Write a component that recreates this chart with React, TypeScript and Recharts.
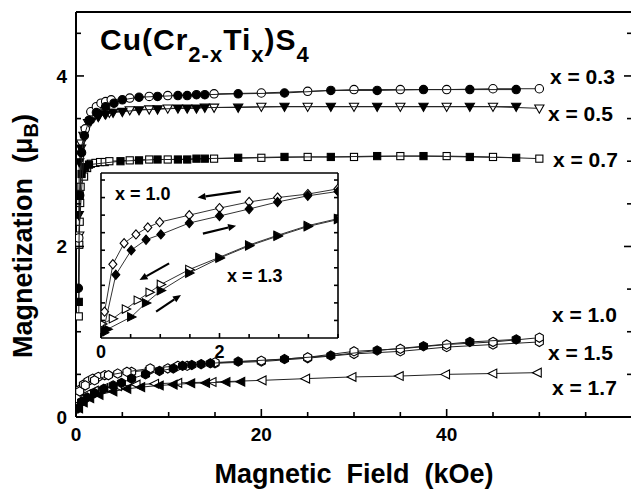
import React from "react";
import { ComposedChart, Scatter, XAxis, YAxis, ReferenceLine } from "recharts";

// ---- main panel: field (kOe) and moment (muB) per composition ----
// filled = field going up, open = field going down
const h03Up = [0.25, 0.4, 0.6, 0.9, 1.4, 2.2, 3.2, 4.1, 5.0, 6.8, 8.8, 11, 12, 13, 13.9, 17.5, 22.5, 27.5, 32.5, 37.5, 42.5, 47.5];
const m03Up = [1.51, 2.6, 3.1, 3.3, 3.48, 3.57, 3.64, 3.68, 3.72, 3.75, 3.76, 3.77, 3.77, 3.78, 3.78, 3.79, 3.8, 3.83, 3.83, 3.84, 3.84, 3.84];
const h03Down = [0.3, 1.0, 1.6, 2.2, 2.7, 3.2, 3.8, 5.8, 7.9, 9.9, 14.9, 20, 25, 30, 35, 40, 45, 50];
const m03Down = [2.1, 3.38, 3.58, 3.64, 3.68, 3.7, 3.72, 3.74, 3.76, 3.77, 3.79, 3.8, 3.82, 3.84, 3.84, 3.84, 3.85, 3.85];

const h05Up = [0.3, 0.35, 0.55, 1.0, 1.6, 2.4, 3.2, 4.0, 5.0, 6.8, 8.8, 11, 12, 13, 13.9, 17.5, 22.5, 27.5, 32.5, 37.5, 42.5, 47.5];
const m05Up = [2.37, 2.99, 3.15, 3.36, 3.47, 3.52, 3.55, 3.57, 3.58, 3.6, 3.61, 3.62, 3.62, 3.62, 3.63, 3.63, 3.64, 3.64, 3.64, 3.64, 3.64, 3.64];
const h05Down = [0.35, 0.55, 0.8, 1.3, 1.9, 2.5, 3.1, 3.6, 5.8, 7.9, 9.9, 14.9, 20, 25, 30, 35, 40, 45, 50];
const m05Down = [2.13, 3.21, 3.3, 3.45, 3.51, 3.54, 3.56, 3.57, 3.6, 3.61, 3.62, 3.63, 3.64, 3.64, 3.64, 3.64, 3.64, 3.64, 3.62];

const h07Up = [0.3, 0.4, 0.6, 1.0, 1.4, 4.8, 6.8, 8.8, 11, 12, 13, 13.9, 17.5, 22.5, 27.5, 32.5, 37.5, 42.5, 47.5];
const m07Up = [1.35, 2.6, 2.85, 2.93, 2.96, 3.0, 3.01, 3.02, 3.02, 3.02, 3.03, 3.03, 3.04, 3.05, 3.05, 3.06, 3.06, 3.05, 3.04];
const h07Down = [0.3, 0.35, 0.4, 0.45, 0.5, 0.87, 1.2, 1.6, 2.1, 2.6, 3.1, 3.6, 5.8, 7.9, 9.9, 14.9, 20, 25, 30, 35, 40, 45, 50];
const m07Down = [1.18, 2.02, 2.29, 2.51, 2.7, 2.82, 2.92, 2.97, 2.98, 2.99, 2.99, 3.0, 3.01, 3.02, 3.02, 3.03, 3.04, 3.05, 3.05, 3.06, 3.06, 3.05, 3.03];

const h10Up = [0.2, 0.6, 1.2, 2, 3, 4, 4.9, 6, 7.5, 9, 10.5, 11.5, 12.5, 13.5, 14.5, 17.5, 22.5, 27.5, 32.5, 37.5, 42.5, 47.5];
const m10Up = [0.1, 0.18, 0.23, 0.28, 0.33, 0.37, 0.4, 0.45, 0.5, 0.54, 0.57, 0.6, 0.61, 0.62, 0.63, 0.65, 0.68, 0.72, 0.78, 0.83, 0.88, 0.91];
const h10Down = [0.4, 1.0, 2.0, 3.5, 5.5, 8, 11, 15, 20, 25, 30, 35, 40, 45, 50];
const m10Down = [0.3, 0.37, 0.43, 0.49, 0.53, 0.57, 0.6, 0.64, 0.66, 0.7, 0.77, 0.8, 0.85, 0.88, 0.93];

const h15 = [0.1, 0.4, 0.8, 1.3, 1.8, 2.4, 3.1, 4.5, 6, 7.9, 9.9, 12, 15, 20, 25, 30, 35, 40, 45, 50];
const m15 = [0.22, 0.32, 0.38, 0.42, 0.45, 0.47, 0.49, 0.51, 0.53, 0.55, 0.57, 0.6, 0.63, 0.65, 0.69, 0.74, 0.77, 0.82, 0.85, 0.88];

const h17Up = [0.3, 0.8, 1.5, 2.5, 4, 5.5, 7, 9, 10.5, 12.4, 14, 16.2, 17.8];
const m17Up = [0.1, 0.17, 0.22, 0.26, 0.3, 0.33, 0.35, 0.37, 0.38, 0.395, 0.4, 0.41, 0.414];
const h17Down = [0.2, 0.6, 1.2, 2, 3, 4.5, 6.5, 8.5, 11, 14.7, 20.1, 24.8, 29.8, 34.9, 39.9, 45, 49.8];
const m17Down = [0.15, 0.22, 0.27, 0.31, 0.34, 0.36, 0.38, 0.39, 0.4, 0.41, 0.43, 0.45, 0.47, 0.48, 0.5, 0.51, 0.52];

// ---- inset: low field (kOe) ----
const hIn10Down = [0.06, 0.2, 0.39, 0.59, 0.79, 0.99, 1.49, 2.0, 2.5, 2.98, 3.49, 4.0];
const mIn10Down = [0.15, 0.42, 0.54, 0.59, 0.63, 0.66, 0.7, 0.74, 0.775, 0.8, 0.82, 0.85];
const hIn10Up = [0.04, 0.25, 0.51, 0.76, 1.01, 1.49, 2.0, 2.5, 2.98, 3.49, 4.0];
const mIn10Up = [0.04, 0.36, 0.5, 0.56, 0.59, 0.655, 0.695, 0.735, 0.775, 0.81, 0.835];
const hIn13Down = [0.02, 0.2, 0.42, 0.62, 0.82, 1.01, 1.49, 2.0, 2.5, 2.98, 3.49, 4.0];
const mIn13Down = [0.08, 0.11, 0.165, 0.215, 0.26, 0.305, 0.39, 0.46, 0.53, 0.585, 0.64, 0.68];
const hIn13Up = [0.05, 0.11, 0.51, 0.76, 1.01, 1.49, 2.0, 2.5, 2.98, 3.49, 4.0];
const mIn13Up = [0.03, 0.05, 0.12, 0.2, 0.27, 0.37, 0.455, 0.525, 0.58, 0.635, 0.675];

// arrows in the inset: [from H, from M, to H, to M]
const insetArrows = [
  [2.36, 0.835, 1.63, 0.8],
  [1.72, 0.595, 2.28, 0.64],
  [1.15, 0.425, 0.65, 0.33],
  [0.93, 0.15, 1.35, 0.245],
];

// ticks
const fieldTicks = [0, 5, 10, 15, 20, 25, 30, 35, 40, 45, 50, 55, 60];
const fieldLabels = [0, 20, 40];
const momentTicks = [0, 0.5, 1, 1.5, 2, 2.5, 3, 3.5, 4, 4.5];
const momentLabels = [0, 2, 4];
const insetFieldTicks = [0, 0.5, 1, 1.5, 2, 2.5, 3, 3.5, 4];
const insetFieldLabels = [0, 2];
const insetMomentTicks = [0.1, 0.2, 0.3, 0.4, 0.5, 0.6, 0.7, 0.8, 0.9];

const FONT = "'Liberation Sans', Arial, sans-serif";

const pts = (h: number[], m: number[]) => h.map((v, i) => ({ h: v, m: m[i] }));

type Kind = "circle" | "square" | "triDown" | "triLeft" | "triRight" | "hex" | "diamond";

function Marker({ cx, cy, kind, filled, size }: any) {
  if (cx == null || cy == null || isNaN(cx) || isNaN(cy)) return null;
  const s = size;
  const st = { fill: filled ? "#000" : "#fff", stroke: "#000", strokeWidth: 1.1 };
  const poly = (p: number[][]) => <polygon points={p.map((q) => q.join(",")).join(" ")} {...st} />;
  switch (kind as Kind) {
    case "circle":
      return <circle cx={cx} cy={cy} r={s} {...st} />;
    case "square":
      return <rect x={cx - s * 0.85} y={cy - s * 0.85} width={s * 1.7} height={s * 1.7} {...st} />;
    case "triDown":
      return poly([[cx - s * 1.1, cy - s * 0.8], [cx + s * 1.1, cy - s * 0.8], [cx, cy + s * 1.15]]);
    case "triLeft":
      return poly([[cx - s * 1.2, cy], [cx + s * 0.9, cy - s * 1.05], [cx + s * 0.9, cy + s * 1.05]]);
    case "triRight":
      return poly([[cx + s * 1.2, cy], [cx - s * 0.9, cy - s * 1.05], [cx - s * 0.9, cy + s * 1.05]]);
    case "diamond":
      return poly([[cx, cy - s * 1.15], [cx + s, cy], [cx, cy + s * 1.15], [cx - s, cy]]);
    default: {
      const r = s * 1.1;
      const p = [0, 1, 2, 3, 4, 5].map((k) => {
        const a = (Math.PI / 3) * k - Math.PI / 2;
        return [cx + r * Math.cos(a), cy + r * Math.sin(a)];
      });
      return poly(p);
    }
  }
}

const mainSeries = [
  { id: "07d", data: pts(h07Down, m07Down), kind: "square", filled: false },
  { id: "07u", data: pts(h07Up, m07Up), kind: "square", filled: true },
  { id: "05d", data: pts(h05Down, m05Down), kind: "triDown", filled: false },
  { id: "05u", data: pts(h05Up, m05Up), kind: "triDown", filled: true },
  { id: "03d", data: pts(h03Down, m03Down), kind: "circle", filled: false },
  { id: "03u", data: pts(h03Up, m03Up), kind: "circle", filled: true },
  { id: "17d", data: pts(h17Down, m17Down), kind: "triLeft", filled: false },
  { id: "17u", data: pts(h17Up, m17Up), kind: "triLeft", filled: true },
  { id: "15", data: pts(h15, m15), kind: "hex", filled: false },
  { id: "10d", data: pts(h10Down, m10Down), kind: "hex", filled: false },
  { id: "10u", data: pts(h10Up, m10Up), kind: "hex", filled: true },
];

const insetSeries = [
  { id: "i13d", data: pts(hIn13Down, mIn13Down), kind: "triRight", filled: false },
  { id: "i13u", data: pts(hIn13Up, mIn13Up), kind: "triRight", filled: true },
  { id: "i10d", data: pts(hIn10Down, mIn10Down), kind: "diamond", filled: false },
  { id: "i10u", data: pts(hIn10Up, mIn10Up), kind: "diamond", filled: true },
];

type Side = "bottom" | "top" | "left" | "right";
function tickRenderer(side: Side, labels: number[], o: { major: number; minor: number; font: number; gap: number; show: boolean }) {
  return (p: any) => {
    const v = Number(p.payload?.value);
    const isMajor = labels.some((l) => Math.abs(l - v) < 1e-6);
    const len = isMajor ? o.major : o.minor;
    const { x, y } = p;
    let line = null;
    if (side === "bottom") line = <line x1={x} y1={y} x2={x} y2={y - len} />;
    if (side === "top") line = <line x1={x} y1={y} x2={x} y2={y + len} />;
    if (side === "left") line = <line x1={x} y1={y} x2={x + len} y2={y} />;
    if (side === "right") line = <line x1={x} y1={y} x2={x - len} y2={y} />;
    let label = null;
    if (o.show && isMajor) {
      if (side === "bottom")
        label = (
          <text x={x} y={y + o.gap} textAnchor="middle" fontSize={o.font} fontWeight="bold" fill="#000" stroke="none" fontFamily={FONT}>
            {v}
          </text>
        );
      if (side === "left")
        label = (
          <text x={x - o.gap} y={y + o.font * 0.36} textAnchor="end" fontSize={o.font} fontWeight="bold" fill="#000" stroke="none" fontFamily={FONT}>
            {v}
          </text>
        );
    }
    return (
      <g stroke="#000" strokeWidth={1.6}>
        {line}
        {label}
      </g>
    );
  };
}

function Arrow(props: any) {
  const { x1, y1, x2, y2 } = props;
  if ([x1, y1, x2, y2].some((v) => v == null || isNaN(v))) return null;
  const a = Math.atan2(y2 - y1, x2 - x1);
  const L = 8;
  const W = 3.5;
  const bx = x2 - L * Math.cos(a);
  const by = y2 - L * Math.sin(a);
  const px = -Math.sin(a) * W;
  const py = Math.cos(a) * W;
  return (
    <g>
      <line x1={x1} y1={y1} x2={bx} y2={by} stroke="#000" strokeWidth={2.2} />
      <polygon points={`${x2},${y2} ${bx + px},${by + py} ${bx - px},${by - py}`} fill="#000" />
    </g>
  );
}

const labelStyle = { fontFamily: FONT, fontWeight: "bold" as const, fill: "#000" };

export default function App() {
  return (
    <div style={{ position: "fixed", left: 0, top: 0, width: 631, height: 492, overflow: "hidden", background: "#fff" }}>
      {/* main panel */}
      <div style={{ position: "absolute", left: 0, top: 0 }}>
        <ComposedChart width={640} height={492} margin={{ top: 11, right: 7, bottom: 0, left: 0 }}>
          <XAxis xAxisId="b" type="number" dataKey="h" domain={[0, 60]} ticks={fieldTicks} interval={0} allowDataOverflow
            height={75} tickSize={0} tickMargin={0} tickLine={false} axisLine={{ stroke: "#000", strokeWidth: 2 }}
            tick={tickRenderer("bottom", fieldLabels, { major: 8, minor: 5, font: 19, gap: 24, show: true })} />
          <XAxis xAxisId="t" orientation="top" type="number" domain={[0, 60]} ticks={fieldTicks} interval={0} allowDataOverflow
            height={1} tickSize={0} tickMargin={0} tickLine={false} axisLine={{ stroke: "#000", strokeWidth: 2 }}
            tick={tickRenderer("top", fieldLabels, { major: 8, minor: 5, font: 19, gap: 0, show: false })} />
          <YAxis yAxisId="l" type="number" dataKey="m" domain={[0, 4.75]} ticks={momentTicks} interval={0} allowDataOverflow
            width={76} tickSize={0} tickMargin={0} tickLine={false} axisLine={{ stroke: "#000", strokeWidth: 2 }}
            tick={tickRenderer("left", momentLabels, { major: 8, minor: 5, font: 19, gap: 9, show: true })} />
          <YAxis yAxisId="r" orientation="right" type="number" domain={[0, 4.75]} ticks={momentTicks} interval={0} allowDataOverflow
            width={1} tickSize={0} tickMargin={0} tickLine={false} axisLine={{ stroke: "#000", strokeWidth: 2 }}
            tick={tickRenderer("right", momentLabels, { major: 8, minor: 5, font: 19, gap: 0, show: false })} />
          {mainSeries.map((s) => (
            <Scatter key={s.id} xAxisId="b" yAxisId="l" data={s.data} isAnimationActive={false}
              line={{ stroke: "#222", strokeWidth: 1 }} lineType="joint"
              shape={(p: any) => <Marker cx={p.cx} cy={p.cy} kind={s.kind} filled={s.filled} size={4.2} />} />
          ))}
        </ComposedChart>
      </div>

      {/* inset background */}
      <div style={{ position: "absolute", left: 101, top: 173, width: 237, height: 165, background: "#fff" }} />

      {/* inset */}
      <div style={{ position: "absolute", left: 80, top: 160 }}>
        <ComposedChart width={280} height={210} margin={{ top: 12, right: 21, bottom: 31, left: 20 }}>
          <XAxis xAxisId="b" type="number" dataKey="h" domain={[0, 4]} ticks={insetFieldTicks} interval={0} allowDataOverflow
            height={1} tickSize={0} tickMargin={0} tickLine={false} axisLine={{ stroke: "#000", strokeWidth: 1.6 }}
            tick={tickRenderer("bottom", insetFieldLabels, { major: 5, minor: 4, font: 18, gap: 20, show: true })} />
          <XAxis xAxisId="t" orientation="top" type="number" domain={[0, 4]} ticks={insetFieldTicks} interval={0} allowDataOverflow
            height={1} tickSize={0} tickMargin={0} tickLine={false} axisLine={{ stroke: "#000", strokeWidth: 1.6 }}
            tick={tickRenderer("top", insetFieldLabels, { major: 5, minor: 4, font: 18, gap: 0, show: false })} />
          <YAxis yAxisId="l" type="number" dataKey="m" domain={[0, 0.94]} ticks={insetMomentTicks} interval={0} allowDataOverflow
            width={1} tickSize={0} tickMargin={0} tickLine={false} axisLine={{ stroke: "#000", strokeWidth: 1.6 }}
            tick={tickRenderer("left", [], { major: 4, minor: 4, font: 18, gap: 0, show: false })} />
          <YAxis yAxisId="r" orientation="right" type="number" domain={[0, 0.94]} ticks={insetMomentTicks} interval={0} allowDataOverflow
            width={1} tickSize={0} tickMargin={0} tickLine={false} axisLine={{ stroke: "#000", strokeWidth: 1.6 }}
            tick={tickRenderer("right", [], { major: 4, minor: 4, font: 18, gap: 0, show: false })} />
          {insetSeries.map((s) => (
            <Scatter key={s.id} xAxisId="b" yAxisId="l" data={s.data} isAnimationActive={false}
              line={{ stroke: "#333", strokeWidth: 1 }} lineType="joint"
              shape={(p: any) => <Marker cx={p.cx} cy={p.cy} kind={s.kind} filled={s.filled} size={4} />} />
          ))}
          {insetArrows.map((a, i) => (
            <ReferenceLine key={i} xAxisId="b" yAxisId="l" ifOverflow="visible"
              segment={[{ x: a[0], y: a[1] }, { x: a[2], y: a[3] }]} shape={(p: any) => <Arrow {...p} />} />
          ))}
        </ComposedChart>
      </div>

      {/* texts */}
      <svg width={631} height={492} style={{ position: "absolute", left: 0, top: 0, pointerEvents: "none" }}>
        <text x={100} y={50} fontSize={30} letterSpacing={1} {...labelStyle}>
          Cu(Cr<tspan fontSize={22} dy={12}>2-x</tspan>
          <tspan dy={-12}>Ti</tspan>
          <tspan fontSize={22} dy={12}>x</tspan>
          <tspan dy={-12}>)S</tspan>
          <tspan fontSize={22} dy={12}>4</tspan>
        </text>

        <text x={550} y={83.5} fontSize={21} {...labelStyle}>x = 0.3</text>
        <text x={548} y={120.5} fontSize={21} {...labelStyle}>x = 0.5</text>
        <text x={553} y={167} fontSize={21} {...labelStyle}>x = 0.7</text>
        <text x={552} y={321.5} fontSize={21} {...labelStyle}>x = 1.0</text>
        <text x={548} y={359.5} fontSize={21} {...labelStyle}>x = 1.5</text>
        <text x={552} y={394.5} fontSize={21} {...labelStyle}>x = 1.7</text>

        <text x={115} y={199.5} fontSize={18} {...labelStyle}>x = 1.0</text>
        <text x={227} y={281.5} fontSize={18} {...labelStyle}>x = 1.3</text>

        <text x={354} y={483} fontSize={27} textAnchor="middle" style={{ whiteSpace: "pre" }} {...labelStyle}>
          Magnetic  Field  (kOe)
        </text>
        <text transform="translate(32,236) rotate(-90)" fontSize={27} textAnchor="middle" style={{ whiteSpace: "pre" }} {...labelStyle}>
          Magnetization  (μ<tspan fontSize={20} dy={6}>B</tspan><tspan dy={-6}>)</tspan>
        </text>
      </svg>
    </div>
  );
}
